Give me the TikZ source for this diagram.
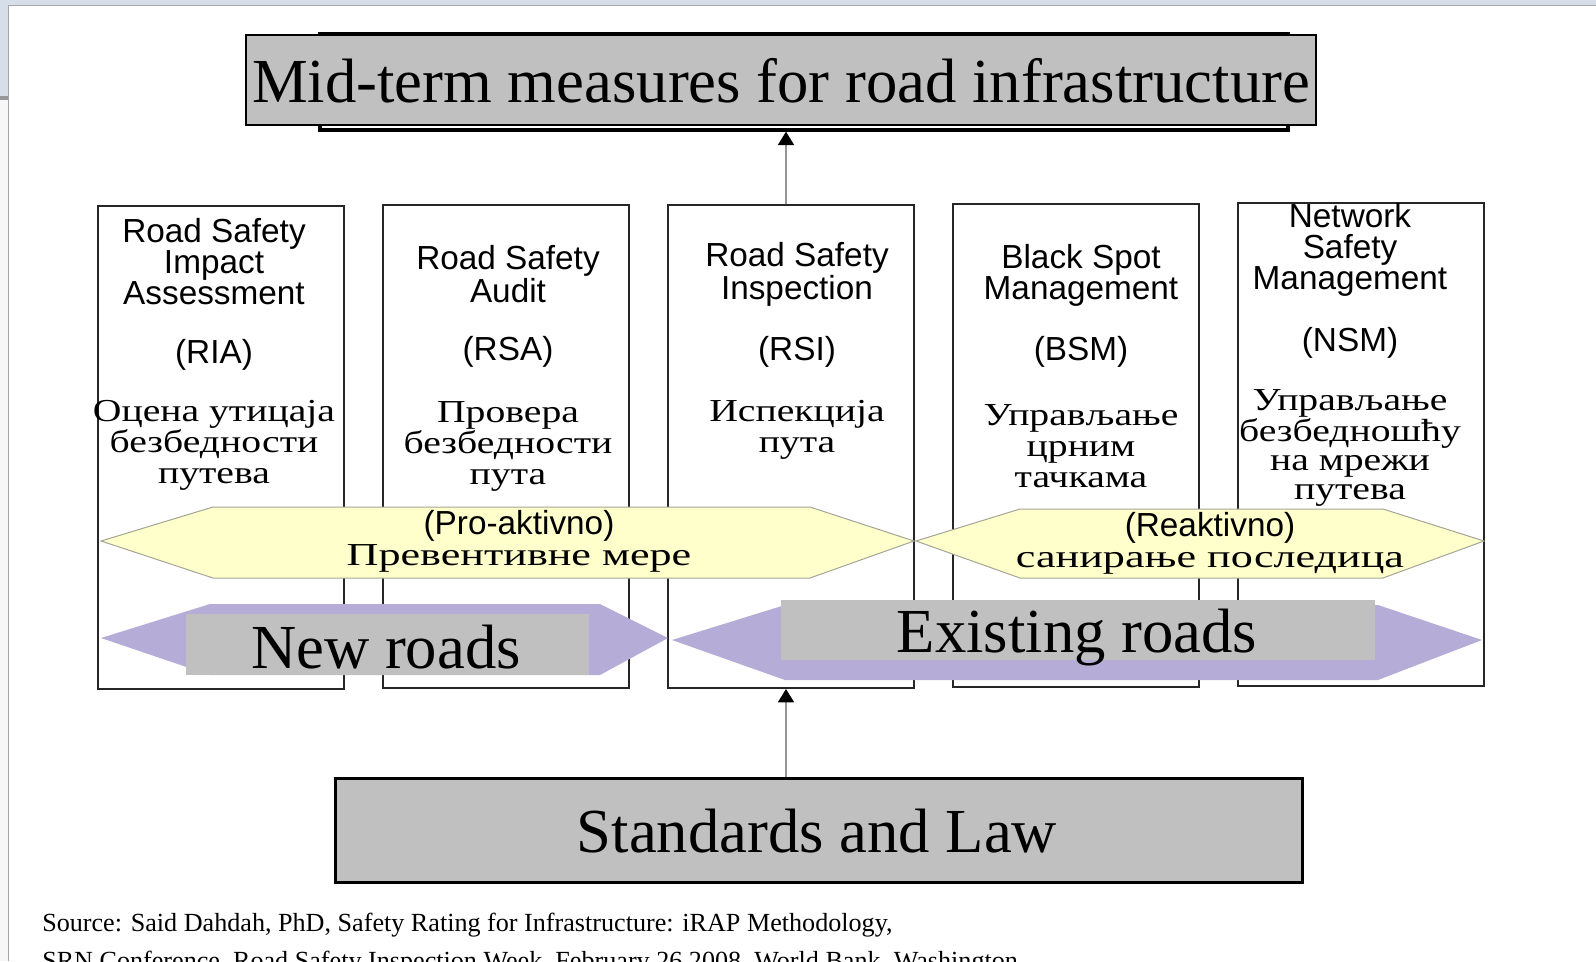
\documentclass[tikz,border=0pt]{standalone}
\usepackage{fontspec}
\setmainfont{Liberation Serif}
\newfontfamily\sansf{Liberation Sans}
\newfontfamily\cyrw[FakeStretch=1.24]{Liberation Serif}
\newfontfamily\cyrww[FakeStretch=1.38]{Liberation Serif}
\usetikzlibrary{arrows.meta}
\definecolor{bgstrip}{RGB}{214,222,234}
\definecolor{stripgray}{RGB}{150,150,155}
\definecolor{yelfill}{RGB}{255,255,204}
\definecolor{yeldraw}{RGB}{165,165,150}
\definecolor{purfill}{RGB}{181,173,215}
\definecolor{boxgray}{RGB}{192,192,192}
\definecolor{linegray}{RGB}{150,150,150}
\tikzset{
  colbox/.style={draw=black!85, line width=1.5pt, minimum width=184.5pt, minimum height=362.25pt, inner sep=0pt},
  yel/.style={fill=yelfill, draw=yeldraw, line width=0.75pt},
  pur/.style={fill=purfill, draw=none},
  graybox/.style={fill=boxgray, draw=none, inner sep=0pt},
  framebox/.style={fill=boxgray, draw=black, line width=1.5pt, inner sep=0pt},
  sanslab/.style={font=\sansf\fontsize{25}{23.25}\selectfont, align=center, inner sep=0pt},
  cyrlab/.style={font=\cyrw\fontsize{24}{23.25}\selectfont, align=center, inner sep=0pt},
  bandlab/.style={font=\fontsize{24}{23.25}\selectfont, align=center, inner sep=0pt},
  bigtext/.style={font=\fontsize{47}{50}\selectfont, inner sep=0pt},
  srctext/.style={font=\fontsize{19.6}{22}\selectfont, inner sep=0pt},
  conn/.style={draw=linegray, line width=1.2pt, -{Triangle[length=10pt,width=12pt,color=black]}}
}
\begin{document}
\begin{tikzpicture}[x=0.75pt,y=-0.75pt]
\useasboundingbox (0,0) rectangle (1596,961);
\clip (0,0) rectangle (1596,961);
% background
\fill[white] (0,0) rectangle (1596,961);
\fill[bgstrip] (0,0) rectangle (1596,5);
\fill[bgstrip] (0,0) rectangle (8,97);
\fill[stripgray] (0,96) rectangle (8,100);
\fill[black!3] (0,100) rectangle (8,961);
\draw[gray!70, line width=0.75pt] (8.5,961) -- (8.5,5.5) -- (1596,5.5);

% title with shadow
\node[draw=black, line width=2.5pt, fill=white, minimum width=726pt, minimum height=72pt, inner sep=0pt] (shadow) at (804,82) {};
\node[framebox, minimum width=802.5pt, minimum height=67.5pt] (title) at (781,80) {};
\node[bigtext, anchor=base] (titletext) at (781,102) {Mid-term measures for road infrastructure};

% columns
\node[colbox] (c1) at (220.5,447.5) {};
\node[colbox] (c2) at (506,446.5) {};
\node[colbox] (c3) at (791,446.5) {};
\node[colbox] (c4) at (1076,445) {};
\node[colbox] (c5) at (1361,444.5) {};

% column texts
\node[sanslab] (t1a) at (214,262) {Road Safety\\Impact\\Assessment};
\node[sanslab] (t1b) at (214,355) {(RIA)};
\node[cyrlab] (t1c) at (214,445) {Оцена утицаја\\безбедности\\путева};

\node[sanslab] (t2a) at (508,274) {Road Safety\\Audit};
\node[sanslab] (t2b) at (508,352) {(RSA)};
\node[cyrlab] (t2c) at (508,446) {Провера\\безбедности\\пута};

\node[sanslab] (t3a) at (797,274.5) {Road Safety\\Inspection};
\node[sanslab] (t3b) at (797,352) {(RSI)};
\node[cyrlab] (t3c) at (797,430) {Испекција\\пута};

\node[sanslab] (t4a) at (1081,275) {Black Spot\\Management};
\node[sanslab] (t4b) at (1081,352) {(BSM)};
\node[cyrlab] (t4c) at (1081,446) {Управљање\\црним\\тачкама};

\node[sanslab] (t5a) at (1350,250) {Network\\Safety\\Management};
\node[sanslab] (t5b) at (1350,343) {(NSM)};
\node[cyrlab, font=\cyrw\fontsize{24}{22}\selectfont] (t5c) at (1350,448) {Управљање\\безбедношћу\\на мрежи\\путева};

% yellow hexagons
\path[yel] (101,541) -- (213,507) -- (810,507) -- (914,541) -- (810,578) -- (213,578) -- cycle;
\path[yel] (916,541) -- (1020,509) -- (1383,509) -- (1484,541) -- (1383,578) -- (1020,578) -- cycle;
\node[bandlab] (pro) at (519,541) {{\sansf\fontsize{25}{23.25}\selectfont (Pro-aktivno)}\\{\cyrww Превентивне мере}};
\node[bandlab] (reak) at (1210,543) {{\sansf\fontsize{25}{23.25}\selectfont (Reaktivno)}\\{\cyrww санирање последица}};

% purple arrows
\path[pur] (101,638) -- (210,604) -- (600,604) -- (668,638) -- (600,675) -- (210,675) -- cycle;
\path[pur] (672,640) -- (785,605) -- (1378,605) -- (1482,640) -- (1378,680) -- (785,680) -- cycle;
\node[graybox, minimum width=302.25pt, minimum height=45.75pt] (newbox) at (387.5,644.5) {};
\node[graybox, minimum width=445.5pt, minimum height=45pt] (exbox) at (1078,630) {};
\node[bigtext, anchor=base] (newtext) at (386,668) {New roads};
\node[bigtext, anchor=base] (extext) at (1077,652) {Existing roads};

% standards box
\node[framebox, line width=2.25pt, minimum width=725.25pt, minimum height=78pt] (std) at (818.5,830) {};
\node[bigtext, anchor=base] (stdtext) at (817,852) {Standards and Law};

% connectors
\coordinate (ax) at (786,0);
\draw[conn] (c3.north -| ax) -- (shadow.south -| ax);
\draw[conn] (std.north -| ax) -- (c3.south -| ax);

% source
\node[srctext, anchor=base west] (src1) at (42,931) {Source: Said Dahdah, PhD, Safety Rating for Infrastructure: iRAP Methodology,};
\node[srctext, anchor=base west] (src2) at (42,969) {SRN Conference, Road Safety Inspection Week, February 26 2008, World Bank, Washington};
\end{tikzpicture}
\end{document}
